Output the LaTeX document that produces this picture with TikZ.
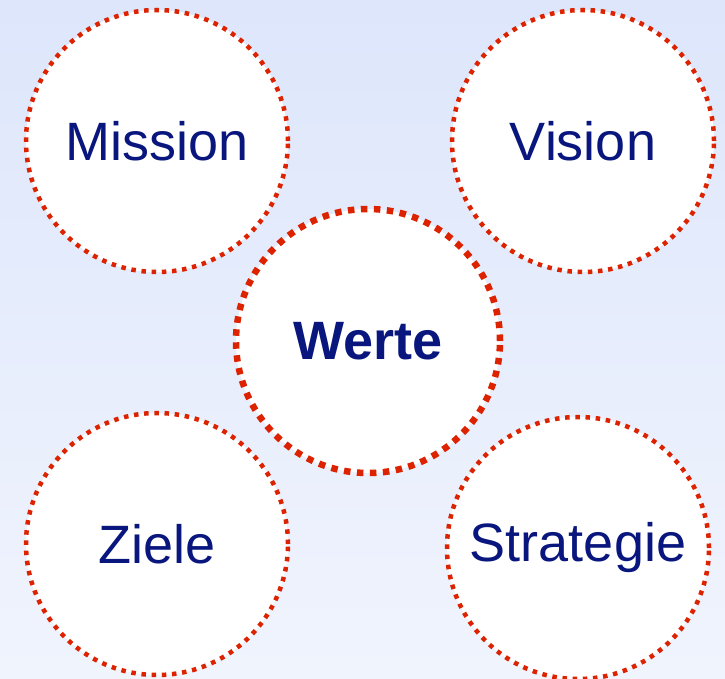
\documentclass[tikz,border=0pt]{standalone}
\usepackage{fontspec}
\setmainfont{Liberation Sans}
\definecolor{ringred}{RGB}{221,34,0}
\definecolor{labelblue}{RGB}{8,22,125}
\definecolor{bgtop}{RGB}{221,230,251}
\definecolor{bgbottom}{RGB}{240,244,253}
\begin{document}
\begin{tikzpicture}[x=1pt,y=-1pt,
  ring/.style={circle, minimum size=262pt, inner sep=0pt, fill=white, draw=ringred,
    line width=4.5pt, dash pattern=on 4.5pt off 5.7pt, text=labelblue,
    font=\fontsize{54}{60}\selectfont},
  corering/.style={ring, minimum size=264pt, line width=6.5pt, dash pattern=on 6.5pt off 6.5pt,
    font=\fontsize{54}{60}\selectfont\bfseries}]
  % background with vertical gradient
  \shade[top color=bgtop, bottom color=bgbottom] (0,0) rectangle (725,679);
  \useasboundingbox (0,0) rectangle (725,679);
  \node[ring] (mission) at (157,141) {Mission};
  \node[ring] (vision) at (583,141) {Vision};
  \node[ring] (ziele) at (157,544) {Ziele};
  \node[ring] (strategie) at (578,548) {Strategie};
  \node[corering] (werte) at (368,341) {\raisebox{-2pt}{Werte}};
\end{tikzpicture}
\end{document}
